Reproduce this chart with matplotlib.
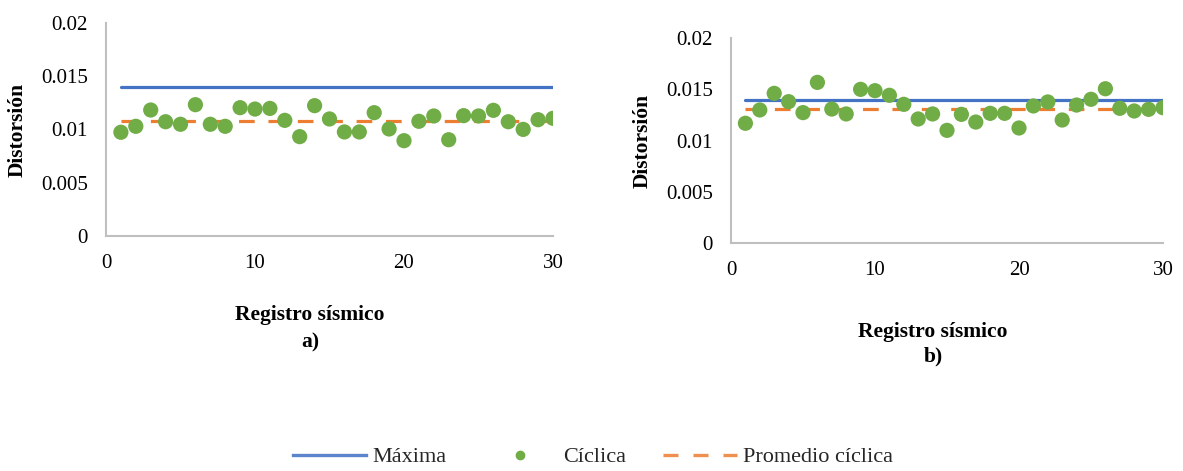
import matplotlib
matplotlib.use("Agg")
import matplotlib.pyplot as plt
from matplotlib.lines import Line2D

plt.rcParams['font.family'] = ['Liberation Serif', 'DejaVu Serif']

registros = list(range(1, 31))

# panel a)
ciclica_a = [0.00974, 0.0103, 0.01183, 0.01073, 0.01049, 0.01233, 0.01049, 0.0103, 0.01205, 0.01192,
             0.01198, 0.01086, 0.00933, 0.01224, 0.01099, 0.00977, 0.00977, 0.01158, 0.01005, 0.00895,
             0.01077, 0.01127, 0.00904, 0.0113, 0.01127, 0.0118, 0.01073, 0.01001, 0.01092, 0.01105]
maxima_a = 0.014
promedio_a = 0.0108

# panel b)
ciclica_b = [0.01168, 0.01298, 0.0146, 0.01379, 0.01272, 0.01567, 0.01307, 0.01259, 0.01499, 0.01486,
             0.01441, 0.01353, 0.0121, 0.01259, 0.01099, 0.01255, 0.0118, 0.01265, 0.01265, 0.01122,
             0.01337, 0.01376, 0.012, 0.01346, 0.01402, 0.01505, 0.01314, 0.01288, 0.01304, 0.0132]
maxima_b = 0.014
promedio_b = 0.0131

AZUL = '#4472C4'
NARANJA = '#ED7D31'
VERDE = '#70AD47'
GRIS = '#BFBFBF'

fig = plt.figure(figsize=(11.83, 4.71), dpi=100)

paneles = [
    ([106 / 1183, 235 / 471, 447 / 1183, 213 / 471], ciclica_a, maxima_a, promedio_a, 'a)',
     (-0.1745, 0.5), (0.456, -0.371, -0.498)),
    ([731 / 1183, 228 / 471, 432 / 1183, 205 / 471], ciclica_b, maxima_b, promedio_b, 'b)',
     (-0.1806, 0.5), (0.4676, -0.434, -0.556)),
]

for rect, ciclica, maxima, promedio, letra, ylab_pos, xlab_pos in paneles:
    ax = fig.add_axes(rect)
    ax.plot([registros[0], registros[-1]], [maxima, maxima], color=AZUL, lw=2.3,
            solid_capstyle='round', zorder=2)
    ax.plot([registros[0], registros[-1]], [promedio, promedio], color=NARANJA, lw=2.3,
            dashes=(4.9, 4.3), zorder=2)
    ax.scatter(registros, ciclica, s=120, color=VERDE, edgecolors='none', zorder=3)

    ax.set_xlim(0, 30)
    ax.set_ylim(0, 0.02)
    ax.set_xticks([0, 10, 20, 30])
    ax.set_yticks([0, 0.005, 0.01, 0.015, 0.02])
    ax.set_yticklabels(['0', '0.005', '0.01', '0.015', '0.02'])
    ax.tick_params(length=0, labelsize=15, colors='#000000')
    ax.tick_params(axis='x', pad=13)
    ax.tick_params(axis='y', pad=13)
    for s in ['top', 'right']:
        ax.spines[s].set_visible(False)
    for s in ['left', 'bottom']:
        ax.spines[s].set_color(GRIS)
        ax.spines[s].set_linewidth(1.5)

    ax.set_ylabel('Distorsión', fontsize=15.5, fontweight='bold')
    ax.yaxis.set_label_coords(*ylab_pos)
    xc, y1, y2 = xlab_pos
    ax.text(xc, y1, 'Registro sísmico', transform=ax.transAxes, ha='center', va='center',
            fontsize=15.5, fontweight='bold')
    ax.text(xc, y2, letra, transform=ax.transAxes, ha='center', va='center',
            fontsize=15.5, fontweight='bold')

handles = [
    Line2D([], [], color='#5B84CC', lw=2.4),
    Line2D([], [], color=VERDE, marker='o', ls='none', markersize=6),
    Line2D([], [], color='#EE9050', lw=2.4, dashes=(4.5, 4.5)),
]
fig.legend(handles, ['Máxima', 'Cíclica', 'Promedio cíclica'], loc='center',
           bbox_to_anchor=(593 / 1183, 14 / 471), ncol=3, frameon=False, fontsize=16,
           handlelength=3.3, columnspacing=1.65, handletextpad=0.3, labelcolor='#262626')

fig.savefig('out.png', dpi=100)
